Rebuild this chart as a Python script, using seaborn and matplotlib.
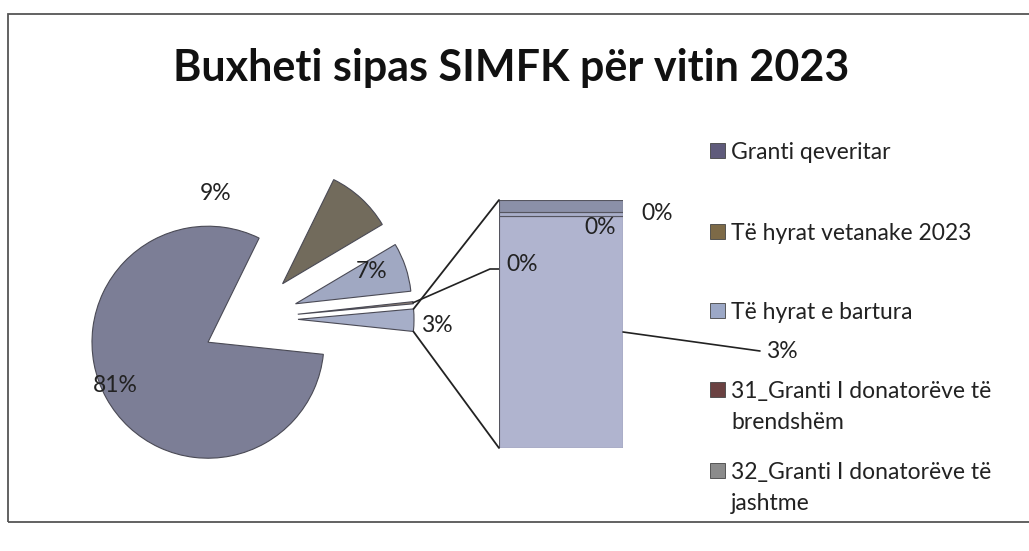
import numpy as np
import matplotlib
matplotlib.use("Agg")
import matplotlib.pyplot as plt
from matplotlib.patches import Rectangle, ConnectionPatch
import seaborn as sns

# pie: three big sources, a tiny slice and the "other" slice that opens into the bar
pie_values = [80.6, 9.2, 6.8, 0.3, 3.1]
pie_colors = ['#7c7e96', '#726b5c', '#a0a8c2', '#8d7f74', '#a6aec8']

# bar (split of the "other" slice), bottom to top
bar_values = [2.9, 0.05, 0.15]
bar_colors = ['#b0b4cf', '#a9aec9', '#8b90a8']

legend_names = ['Granti qeveritar', 'Të hyrat vetanake 2023', 'Të hyrat e bartura',
                '31_Granti I donatorëve të\nbrendshëm', '32_Granti I donatorëve të\njashtme']
legend_colors = ['#5f5b7b', '#7d6a47', '#9ca8c6', '#6b4242', '#8b8b8b']

title = 'Buxheti sipas SIMFK për vitin 2023'

sns.set_theme(style='white')
plt.rcParams['font.family'] = ['Lato', 'DejaVu Sans']

W, H = 1029, 551
fig = plt.figure(figsize=(W / 100, H / 100), dpi=100)
fig.patch.set_facecolor('white')

# one axes in pixel units for the pie, labels and legend
ax = fig.add_axes([0, 0, 1, 1])
wedges, _ = ax.pie(pie_values, colors=pie_colors, center=(250, H - 319), radius=116,
                   startangle=-6, counterclock=False, explode=[48] * len(pie_values),
                   wedgeprops=dict(edgecolor='#4a4a55', linewidth=0.8))
ax.set_xlim(0, W)
ax.set_ylim(0, H)
ax.set_aspect('equal')
ax.axis('off')

pct = [f'{v:.0f}%' for v in pie_values]
lab_fs = 16.5
txt = dict(ha='center', va='center', fontsize=lab_fs, color='#222222')
ax.text(115, H - 385, pct[0], **txt)
ax.text(216, H - 193, pct[1], **txt)
ax.text(372, H - 271, pct[2], **txt)
ax.text(437, H - 325, pct[4], **txt)

# leader for the tiny slice
w = wedges[3]
mid = np.deg2rad((w.theta1 + w.theta2) / 2)
tip = (w.center[0] + w.r * np.cos(mid), w.center[1] + w.r * np.sin(mid))
ax.plot([tip[0], 490, 500], [tip[1], H - 269, H - 269], color='#222222', lw=1.2)

# bar of the "other" slice
bax = fig.add_axes([499 / W, (H - 448) / H, 124 / W, 248 / H])
bottoms = np.concatenate([[0], np.cumsum(bar_values)[:-1]])
bax.bar(0, bar_values, bottom=bottoms, width=1, color=bar_colors,
        edgecolor='#55555f', linewidth=0.8)
bax.set_xlim(-0.5, 0.5)
bax.set_ylim(0, sum(bar_values))
bax.axis('off')

# connectors from the other slice to the bar
w = wedges[4]
for ang, yb in [(w.theta2, 1), (w.theta1, 0)]:
    a = np.deg2rad(ang)
    p = (w.center[0] + w.r * np.cos(a), w.center[1] + w.r * np.sin(a))
    con = ConnectionPatch(xyA=p, coordsA=ax.transData, xyB=(0, yb), coordsB=bax.transAxes,
                          color='#222222', lw=1.3)
    fig.add_artist(con)

bpct = [f'{v:.0f}%' for v in bar_values]
ymid = (bottoms[0] + bar_values[0] / 2) / sum(bar_values)
con = ConnectionPatch(xyA=(1, ymid), coordsA=bax.transAxes, xyB=(760, H - 351),
                      coordsB=ax.transData, color='#222222', lw=1.2)
fig.add_artist(con)
ax.text(766, H - 351, bpct[0], ha='left', va='center', fontsize=lab_fs, color='#222222')

# labels that sit on top of the bar
ftxt = dict(ha='center', va='center', fontsize=lab_fs, color='#222222')
fig.text(522 / W, 1 - 264 / H, pct[3], **ftxt)
fig.text(600 / W, 1 - 228 / H, bpct[1], **ftxt)
fig.text(657 / W, 1 - 213 / H, bpct[2], **ftxt)

# legend, drawn by hand to keep the wide spacing of the original
baselines = [159, 240, 319, 398, 479]
for name, col, yb in zip(legend_names, legend_colors, baselines):
    ax.add_patch(Rectangle((710, H - yb + 1), 15, 15, facecolor=col, edgecolor='#444444', lw=0.6))
    for i, line in enumerate(name.split('\n')):
        ax.text(731, H - yb - 31 * i, line, ha='left', va='baseline', fontsize=16.5,
                color='#222222')

fig.text(0.497, 1 - 68 / H, title, ha='center', va='center', fontsize=31,
         fontweight='bold', color='#111111')

# chart frame
fig.add_artist(Rectangle((8 / W, (H - 522) / H), (1040 - 8) / W, (522 - 14) / H,
                         transform=fig.transFigure, fill=False, edgecolor='#555555', lw=1.3))

fig.savefig('out.png', dpi=100, facecolor='white')
